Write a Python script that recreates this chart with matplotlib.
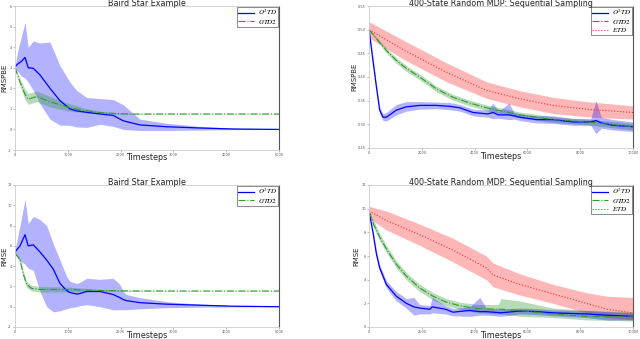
import matplotlib
matplotlib.use("Agg")
import matplotlib.pyplot as plt
import numpy as np

plt.rcParams["mathtext.fontset"] = "stix"

# ---------------- Data ----------------
# Baird star, RMSPBE
bs_pbe_x = [0, 60, 120, 190, 250, 347, 473, 662, 851, 1040, 1166, 1356, 1608, 1860, 2050, 2365, 2870, 3500, 4130, 5000]
bs_pbe_o2 = [3.05, 3.2, 3.3, 3.5, 3.0, 2.97, 2.65, 2.0, 1.4, 1.0, 0.9, 0.83, 0.75, 0.68, 0.42, 0.22, 0.13, 0.07, 0.02, 0.0]
bs_pbe_o2_hi = [3.1, 3.9, 4.5, 5.2, 4.0, 4.3, 4.2, 4.25, 3.1, 2.3, 1.9, 1.55, 1.5, 1.45, 1.2, 0.5, 0.3, 0.15, 0.06, 0.02]
bs_pbe_o2_lo = [2.9, 2.8, 2.6, 2.5, 2.3, 1.9, 1.24, 0.5, 0.21, 0.2, 0.12, 0.1, 0.25, 0.15, 0.0, -0.05, -0.05, -0.03, -0.01, 0.0]
bs_pbe_gx = [0, 95, 190, 250, 410, 660, 977, 1290, 1608, 1923, 2200, 3000, 4000, 5000]
bs_pbe_g = [3.0, 2.3, 1.7, 1.47, 1.6, 1.35, 1.1, 0.93, 0.82, 0.77, 0.75, 0.75, 0.75, 0.75]
bs_pbe_g_hi = [3.02, 2.45, 1.95, 1.75, 1.87, 1.6, 1.3, 1.05, 0.88, 0.8, 0.77, 0.76, 0.76, 0.76]
bs_pbe_g_lo = [2.98, 2.15, 1.45, 1.22, 1.35, 1.1, 0.9, 0.82, 0.76, 0.74, 0.73, 0.74, 0.74, 0.74]

# Baird star, RMSE
bs_e_x = [0, 95, 190, 250, 347, 473, 600, 725, 851, 977, 1040, 1166, 1230, 1356, 1608, 1860, 1986, 2050, 2110, 2365, 2870, 3500, 4130, 5000]
bs_e_o2 = [5.4, 6.0, 7.1, 6.0, 6.1, 5.4, 4.6, 3.7, 2.3, 1.6, 1.4, 1.25, 1.3, 1.5, 1.5, 1.2, 0.9, 0.7, 0.6, 0.4, 0.25, 0.15, 0.05, 0.0]
bs_e_o2_hi = [5.6, 8.0, 10.6, 8.2, 8.9, 8.6, 8.0, 6.2, 4.6, 3.0, 2.5, 2.3, 2.4, 2.8, 2.7, 2.8, 2.2, 1.5, 1.2, 0.9, 0.5, 0.25, 0.1, 0.02]
bs_e_o2_lo = [5.2, 4.5, 4.2, 3.8, 3.6, 1.5, 0.0, -0.5, -0.4, -0.2, -0.1, 0.0, 0.1, 0.2, 0.0, -0.3, -0.3, -0.3, -0.3, -0.2, -0.1, -0.05, -0.02, 0.0]
bs_e_gx = [0, 95, 158, 220, 315, 473, 977, 1608, 2100, 3000, 5000]
bs_e_g = [5.3, 4.6, 3.2, 2.2, 1.8, 1.7, 1.7, 1.6, 1.56, 1.55, 1.55]
bs_e_g_hi = [5.35, 4.8, 3.5, 2.5, 2.1, 2.0, 1.95, 1.7, 1.6, 1.57, 1.57]
bs_e_g_lo = [5.25, 4.4, 2.9, 1.9, 1.55, 1.45, 1.45, 1.5, 1.52, 1.53, 1.53]

# Random MDP, RMSPBE
rm_pbe_x = [0, 150, 278, 404, 530, 657, 1035, 1414, 1919, 2550, 3055, 3434, 3940, 4500, 4700, 4900, 5300, 5500, 5707, 6338, 6970, 7727, 8400, 8600, 8800, 9242, 10000]
rm_pbe_o2 = [0.50, 0.435, 0.38, 0.33, 0.315, 0.315, 0.33, 0.337, 0.34, 0.34, 0.338, 0.335, 0.325, 0.322, 0.325, 0.32, 0.32, 0.318, 0.315, 0.31, 0.31, 0.305, 0.305, 0.308, 0.303, 0.298, 0.295]
rm_pbe_o2_hi = [0.505, 0.442, 0.387, 0.337, 0.322, 0.325, 0.342, 0.348, 0.348, 0.347, 0.346, 0.342, 0.332, 0.33, 0.345, 0.327, 0.345, 0.325, 0.322, 0.318, 0.318, 0.312, 0.312, 0.35, 0.315, 0.31, 0.305]
rm_pbe_o2_lo = [0.495, 0.428, 0.373, 0.323, 0.308, 0.307, 0.32, 0.328, 0.332, 0.333, 0.331, 0.328, 0.318, 0.315, 0.312, 0.313, 0.31, 0.311, 0.308, 0.303, 0.302, 0.298, 0.298, 0.28, 0.292, 0.288, 0.285]
rm_pbe_gx = [0, 657, 1035, 1414, 1919, 2550, 3182, 3813, 4444, 5707, 6970, 8232, 10000]
rm_pbe_g = [0.50, 0.456, 0.435, 0.418, 0.40, 0.375, 0.357, 0.345, 0.335, 0.32, 0.31, 0.305, 0.295]
rm_pbe_g_hi = [0.502, 0.461, 0.441, 0.424, 0.406, 0.381, 0.363, 0.351, 0.341, 0.326, 0.316, 0.311, 0.302]
rm_pbe_g_lo = [0.498, 0.451, 0.429, 0.412, 0.394, 0.369, 0.351, 0.339, 0.329, 0.314, 0.304, 0.299, 0.288]
rm_pbe_rx = [0, 1288, 2929, 4444, 5707, 6970, 8232, 10000]
rm_pbe_r = [0.50, 0.458, 0.41, 0.372, 0.354, 0.34, 0.332, 0.325]
rm_pbe_r_hi = [0.517, 0.478, 0.43, 0.39, 0.371, 0.357, 0.348, 0.339]
rm_pbe_r_lo = [0.483, 0.438, 0.39, 0.355, 0.337, 0.323, 0.316, 0.311]

# Random MDP, RMSE
rm_e_x = [0, 150, 278, 404, 657, 1035, 1414, 1700, 1919, 2300, 2400, 2900, 3182, 3813, 4200, 4444, 5000, 5707, 6338, 6970, 8232, 8990, 10000]
rm_e_o2 = [9.8, 8.0, 6.2, 5.0, 3.6, 2.6, 2.0, 1.7, 1.6, 1.5, 1.7, 1.5, 1.25, 1.4, 1.3, 1.3, 1.2, 1.35, 1.3, 1.2, 1.1, 1.0, 0.9]
rm_e_o2_hi = [9.9, 8.2, 6.5, 5.3, 3.9, 3.0, 2.4, 2.5, 1.9, 1.8, 2.5, 1.8, 1.55, 1.7, 2.5, 1.6, 1.5, 1.6, 1.55, 1.45, 1.4, 1.3, 1.2]
rm_e_o2_lo = [9.7, 7.8, 5.9, 4.7, 3.3, 2.2, 1.6, 1.0, 1.1, 1.1, 1.2, 1.1, 0.95, 0.9, 1.0, 1.0, 0.9, 1.1, 1.05, 0.95, 0.8, 0.6, 0.6]
rm_e_gx = [0, 150, 404, 657, 1035, 1414, 1919, 2424, 2929, 3434, 4100, 4900, 5000, 5707, 6970, 8232, 10000]
rm_e_g = [9.8, 8.8, 7.6, 6.6, 5.3, 4.3, 3.3, 2.6, 2.1, 1.8, 1.55, 1.5, 1.5, 1.4, 1.1, 0.9, 0.85]
rm_e_g_hi = [9.9, 9.1, 7.9, 6.9, 5.6, 4.6, 3.6, 2.9, 2.4, 2.1, 1.9, 1.9, 2.4, 2.2, 1.6, 1.4, 1.3]
rm_e_g_lo = [9.7, 8.5, 7.3, 6.3, 5.0, 4.0, 3.0, 2.3, 1.8, 1.5, 1.2, 1.1, 1.1, 0.9, 0.8, 0.6, 0.5]
rm_e_rx = [0, 657, 1919, 3182, 4444, 4700, 5707, 6970, 8232, 9000, 10000]
rm_e_r = [9.8, 9.0, 7.8, 6.5, 5.0, 4.4, 3.6, 2.8, 2.0, 1.5, 1.2]
rm_e_r_hi = [10.2, 9.8, 8.7, 7.5, 6.0, 5.4, 4.5, 3.6, 2.9, 2.6, 2.5]
rm_e_r_lo = [9.2, 8.2, 6.9, 5.5, 4.0, 3.4, 2.7, 2.0, 1.2, 0.8, 0.6]

BLUE = "#0000ff"
GREEN = "#2f9a2f"
RED = "#ff3030"

fig = plt.figure(figsize=(6.4, 3.39), dpi=100)
W, H = 640.0, 339.0

def make_ax(l, t, r, b):
    return fig.add_axes([l / W, 1 - b / H, (r - l) / W, (b - t) / H])

def ftext(x, y, s, **kw):
    fig.text(x / W, 1 - y / H, s, ha="center", va="center", **kw)

def style(ax, box, title, ylabel, xmax, ylim, yticks, yfmt, xticks, ylab_x):
    l, t, r, b = box
    ftext((l + r) / 2, t - 2, title, fontsize=5.8, color="#222222")
    ftext((l + r) / 2, b + 8, "Timesteps", fontsize=5.8, color="#222222")
    ftext(ylab_x, (t + b) / 2, ylabel, fontsize=5, rotation=90, color="#222222")
    ax.set_xlim(0, xmax)
    ax.set_ylim(*ylim)
    ax.set_yticks(yticks)
    ax.set_yticklabels([yfmt.format(v) for v in yticks])
    ax.set_xticks(xticks)
    ax.set_xticklabels([str(v) for v in xticks])
    ax.tick_params(labelsize=2.5, length=1.5, width=0.4, pad=0.8, colors="#888888", labelcolor="#555555")
    for s in ["left", "top", "bottom"]:
        ax.spines[s].set_color("#cccccc")
        ax.spines[s].set_linewidth(0.6)
    ax.spines["right"].set_color("#555555")
    ax.spines["right"].set_linewidth(0.8)

def legend(ax, labels, handles):
    leg = ax.legend(handles, labels, loc="upper right", fontsize=5, frameon=True,
                    borderpad=0.15, labelspacing=0.05, handlelength=2.2, handletextpad=0.6,
                    borderaxespad=0.1, fancybox=False)
    leg.get_frame().set_edgecolor("#333333")
    leg.get_frame().set_linewidth(0.5)

# ---- Top-left ----
box1 = (15, 6, 279, 150)
ax1 = make_ax(*box1)
ax1.fill_between(bs_pbe_x, bs_pbe_o2_lo, bs_pbe_o2_hi, color=BLUE, alpha=0.3, lw=0)
ax1.fill_between(bs_pbe_gx, bs_pbe_g_lo, bs_pbe_g_hi, color=GREEN, alpha=0.35, lw=0)
l1, = ax1.plot(bs_pbe_x, bs_pbe_o2, color=BLUE, lw=0.9)
l2, = ax1.plot(bs_pbe_gx, bs_pbe_g, color=GREEN, lw=0.8, ls="-.")
style(ax1, box1, "Baird Star Example", "RMSPBE", 5000, (-1, 6), list(range(-1, 7)), "{}",
      [0, 1000, 2000, 3000, 4000, 5000], 4)
legend(ax1, [r"$O^2TD$", r"$GTD2$"], [l1, l2])

# ---- Bottom-left ----
box3 = (15, 185, 279, 327)
ax3 = make_ax(*box3)
ax3.fill_between(bs_e_x, bs_e_o2_lo, bs_e_o2_hi, color=BLUE, alpha=0.3, lw=0)
ax3.fill_between(bs_e_gx, bs_e_g_lo, bs_e_g_hi, color=GREEN, alpha=0.35, lw=0)
l1, = ax3.plot(bs_e_x, bs_e_o2, color=BLUE, lw=0.9)
l2, = ax3.plot(bs_e_gx, bs_e_g, color=GREEN, lw=0.8, ls="-.")
style(ax3, box3, "Baird Star Example", "RMSE", 5000, (-2, 12), list(range(-2, 13, 2)), "{}",
      [0, 1000, 2000, 3000, 4000, 5000], 4)
legend(ax3, [r"$O^2TD$", r"$GTD2$"], [l1, l2])

# ---- Top-right ----
box2 = (369, 6, 633, 148)
ax2 = make_ax(*box2)
ax2.fill_between(rm_pbe_rx, rm_pbe_r_lo, rm_pbe_r_hi, color=RED, alpha=0.35, lw=0)
ax2.fill_between(rm_pbe_gx, rm_pbe_g_lo, rm_pbe_g_hi, color=GREEN, alpha=0.35, lw=0)
ax2.fill_between(rm_pbe_x, rm_pbe_o2_lo, rm_pbe_o2_hi, color=BLUE, alpha=0.3, lw=0)
l1, = ax2.plot(rm_pbe_x, rm_pbe_o2, color=BLUE, lw=0.9)
l2, = ax2.plot(rm_pbe_gx, rm_pbe_g, color=GREEN, lw=0.8, ls="-.")
l3, = ax2.plot(rm_pbe_rx, rm_pbe_r, color=RED, lw=0.8, ls=":")
style(ax2, box2, "400-State Random MDP: Sequential Sampling", "RMSPBE", 10000, (0.25, 0.55),
      [0.25, 0.30, 0.35, 0.40, 0.45, 0.50, 0.55], "{:.2f}",
      [0, 2000, 4000, 6000, 8000, 10000], 354)
legend(ax2, [r"$O^2TD$", r"$GTD2$", r"$ETD$"], [l1, l2, l3])

# ---- Bottom-right ----
box4 = (369, 185, 633, 327)
ax4 = make_ax(*box4)
ax4.fill_between(rm_e_rx, rm_e_r_lo, rm_e_r_hi, color=RED, alpha=0.35, lw=0)
ax4.fill_between(rm_e_gx, rm_e_g_lo, rm_e_g_hi, color=GREEN, alpha=0.35, lw=0)
ax4.fill_between(rm_e_x, rm_e_o2_lo, rm_e_o2_hi, color=BLUE, alpha=0.3, lw=0)
l1, = ax4.plot(rm_e_x, rm_e_o2, color=BLUE, lw=0.9)
l2, = ax4.plot(rm_e_gx, rm_e_g, color=GREEN, lw=0.8, ls="-.")
l3, = ax4.plot(rm_e_rx, rm_e_r, color=RED, lw=0.8, ls=":")
style(ax4, box4, "400-State Random MDP: Sequential Sampling", "RMSE", 10000, (0, 12),
      list(range(0, 13, 2)), "{}", [0, 2000, 4000, 6000, 8000, 10000], 356)
legend(ax4, [r"$O^2TD$", r"$GTD2$", r"$ETD$"], [l1, l2, l3])

fig.savefig("out.png", dpi=100)
